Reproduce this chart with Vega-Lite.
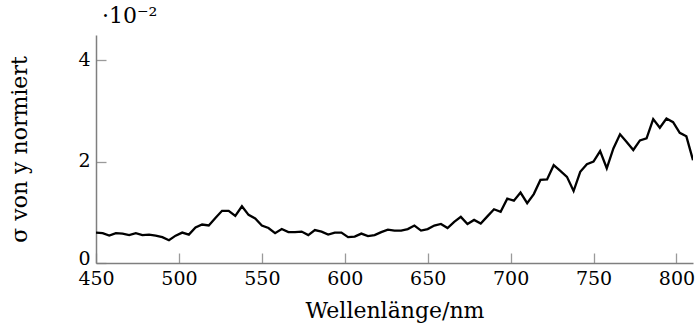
{
  "$schema": "https://vega.github.io/schema/vega-lite/v6.json",
  "autosize": {"type": "none"},
  "padding": {"left": 96, "top": 35, "right": 2, "bottom": 68},
  "width": 597,
  "height": 228,
  "background": "white",
  "title": {
    "text": "·10⁻²",
    "anchor": "start",
    "frame": "group",
    "font": "DejaVu Serif",
    "fontSize": 22,
    "fontWeight": "normal",
    "color": "black",
    "dx": 6,
    "offset": 7
  },
  "config": {
    "view": {"stroke": null},
    "axis": {
      "labelFont": "DejaVu Serif",
      "titleFont": "DejaVu Serif",
      "labelFontSize": 19,
      "titleFontSize": 22,
      "titleFontWeight": "normal",
      "labelColor": "black",
      "titleColor": "black",
      "domainColor": "#7f7f7f",
      "domainWidth": 1.5,
      "ticks": false,
      "grid": true,
      "gridColor": "#9a9a9a",
      "gridWidth": 1.3,
      "gridOpacity": 1
    }
  },
  "data": {
    "values": [
      {"wl": 450, "sigma": 0.60}, {"wl": 454, "sigma": 0.59}, {"wl": 458, "sigma": 0.54},
      {"wl": 462, "sigma": 0.59}, {"wl": 466, "sigma": 0.58}, {"wl": 470, "sigma": 0.55},
      {"wl": 474, "sigma": 0.59}, {"wl": 478, "sigma": 0.55}, {"wl": 482, "sigma": 0.56},
      {"wl": 486, "sigma": 0.54}, {"wl": 490, "sigma": 0.51}, {"wl": 494, "sigma": 0.45},
      {"wl": 498, "sigma": 0.54}, {"wl": 502, "sigma": 0.60}, {"wl": 506, "sigma": 0.56},
      {"wl": 510, "sigma": 0.70}, {"wl": 514, "sigma": 0.76}, {"wl": 518, "sigma": 0.74},
      {"wl": 522, "sigma": 0.89}, {"wl": 526, "sigma": 1.03}, {"wl": 530, "sigma": 1.03},
      {"wl": 534, "sigma": 0.93}, {"wl": 538, "sigma": 1.12}, {"wl": 542, "sigma": 0.95},
      {"wl": 546, "sigma": 0.88}, {"wl": 550, "sigma": 0.74}, {"wl": 554, "sigma": 0.69},
      {"wl": 558, "sigma": 0.59}, {"wl": 562, "sigma": 0.67}, {"wl": 566, "sigma": 0.61},
      {"wl": 570, "sigma": 0.61}, {"wl": 574, "sigma": 0.62}, {"wl": 578, "sigma": 0.55},
      {"wl": 582, "sigma": 0.65}, {"wl": 586, "sigma": 0.62}, {"wl": 590, "sigma": 0.56},
      {"wl": 594, "sigma": 0.60}, {"wl": 598, "sigma": 0.60}, {"wl": 602, "sigma": 0.51},
      {"wl": 606, "sigma": 0.52}, {"wl": 610, "sigma": 0.58}, {"wl": 614, "sigma": 0.53},
      {"wl": 618, "sigma": 0.55}, {"wl": 622, "sigma": 0.61}, {"wl": 626, "sigma": 0.66},
      {"wl": 630, "sigma": 0.64}, {"wl": 634, "sigma": 0.64}, {"wl": 638, "sigma": 0.67},
      {"wl": 642, "sigma": 0.74}, {"wl": 646, "sigma": 0.64}, {"wl": 650, "sigma": 0.67},
      {"wl": 654, "sigma": 0.74}, {"wl": 658, "sigma": 0.77}, {"wl": 662, "sigma": 0.69},
      {"wl": 666, "sigma": 0.81}, {"wl": 670, "sigma": 0.91}, {"wl": 674, "sigma": 0.77},
      {"wl": 678, "sigma": 0.85}, {"wl": 682, "sigma": 0.78}, {"wl": 686, "sigma": 0.92},
      {"wl": 690, "sigma": 1.06}, {"wl": 694, "sigma": 1.01}, {"wl": 698, "sigma": 1.27},
      {"wl": 702, "sigma": 1.23}, {"wl": 706, "sigma": 1.39}, {"wl": 710, "sigma": 1.18},
      {"wl": 714, "sigma": 1.36}, {"wl": 718, "sigma": 1.64}, {"wl": 722, "sigma": 1.65},
      {"wl": 726, "sigma": 1.93}, {"wl": 730, "sigma": 1.82}, {"wl": 734, "sigma": 1.70},
      {"wl": 738, "sigma": 1.42}, {"wl": 742, "sigma": 1.80}, {"wl": 746, "sigma": 1.95},
      {"wl": 750, "sigma": 2.00}, {"wl": 754, "sigma": 2.21}, {"wl": 758, "sigma": 1.87},
      {"wl": 762, "sigma": 2.26}, {"wl": 766, "sigma": 2.54}, {"wl": 770, "sigma": 2.39},
      {"wl": 774, "sigma": 2.23}, {"wl": 778, "sigma": 2.42}, {"wl": 782, "sigma": 2.46},
      {"wl": 786, "sigma": 2.84}, {"wl": 790, "sigma": 2.67}, {"wl": 794, "sigma": 2.85},
      {"wl": 798, "sigma": 2.78}, {"wl": 802, "sigma": 2.57}, {"wl": 806, "sigma": 2.50},
      {"wl": 810, "sigma": 2.03}
    ]
  },
  "mark": {"type": "line", "color": "black", "strokeWidth": 2.3, "strokeJoin": "miter", "clip": true},
  "encoding": {
    "x": {
      "field": "wl",
      "type": "quantitative",
      "scale": {"domain": [450, 810], "nice": false, "zero": false},
      "axis": {
        "title": "Wellenlänge/nm",
        "values": [450, 500, 550, 600, 650, 700, 750, 800],
        "format": "d",
        "gridDash": [10, 218],
        "gridDashOffset": 10,
        "labelPadding": 6,
        "titlePadding": 12,
        "labelFlush": false
      }
    },
    "y": {
      "field": "sigma",
      "type": "quantitative",
      "scale": {"domain": [0, 4.5], "nice": false},
      "axis": {
        "title": "σ von y normiert",
        "values": [0, 2, 4],
        "format": "d",
        "gridDash": [10, 2000],
        "labelPadding": 6,
        "labelOffset": {"condition": {"test": "datum.value === 0", "value": -5}, "value": -1},
        "titlePadding": 46,
        "labelFlush": false
      }
    }
  }
}
